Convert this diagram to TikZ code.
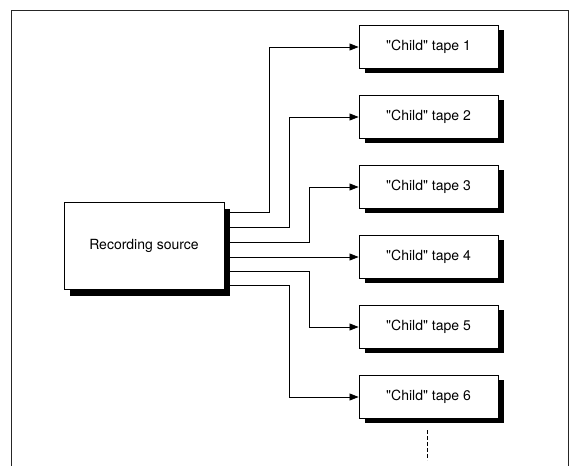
\documentclass[tikz,border=0pt]{standalone}
\usepackage{fontspec}
\setmainfont{TeX Gyre Heros}
\usepackage{tikz}
\usetikzlibrary{arrows.meta,shadows,positioning}
\tikzset{
	srcbox/.style={rectangle, draw=black, line width=0.9pt, fill=white,
		minimum width=160pt, minimum height=87pt, align=center, font=\fontsize{14}{16}\selectfont,
		drop shadow={shadow xshift=6pt, shadow yshift=-6pt, fill=black, opacity=1}},
	tapebox/.style={rectangle, draw=black, line width=0.9pt, fill=white,
		minimum width=139pt, minimum height=43pt, align=center, font=\fontsize{14}{16}\selectfont,
		drop shadow={shadow xshift=6pt, shadow yshift=-4pt, fill=black, opacity=1}},
	feedarr/.style={-{Triangle[length=9pt,width=7pt]}, line width=0.8pt},
	frameline/.style={line width=0.8pt, black!85},
	moreline/.style={line width=0.7pt, dash pattern=on 4pt off 2pt}
}
\newcommand{\childname}{\textquotedbl Child\textquotedbl}

\begin{document}
\begin{tikzpicture}[x=1pt, y=-1pt]
	\useasboundingbox (0,0) rectangle (574,466);
	% open frame round the whole figure
	\draw[frameline] (11,466) -- (11,10) -- (568,10) -- (568,466);

	\node[srcbox] (src) at (144,246) {Recording source};
	\foreach \i in {1,...,6}
		\node[tapebox] (t\i) at (428.5,{47+70*(\i-1)}) {\childname{} tape \i};

	% feeds leave the source at six heights
	\draw[feedarr] (src.east |- 0,212) -| (269,0 |- t1) -- (t1.west);
	\draw[feedarr] (src.east |- 0,227) -| (289,0 |- t2) -- (t2.west);
	\draw[feedarr] (src.east |- 0,242) -| (309,0 |- t3) -- (t3.west);
	\draw[feedarr] (src.east |- 0,257) -- (t4.west |- 0,257);
	\draw[feedarr] (src.east |- 0,271) -| (309,0 |- t5) -- (t5.west);
	\draw[feedarr] (src.east |- 0,285) -| (289,0 |- t6) -- (t6.west);

	\coordinate (more) at (427,460);
	\draw[moreline] (427,430) -- (more);
\end{tikzpicture}
\end{document}
